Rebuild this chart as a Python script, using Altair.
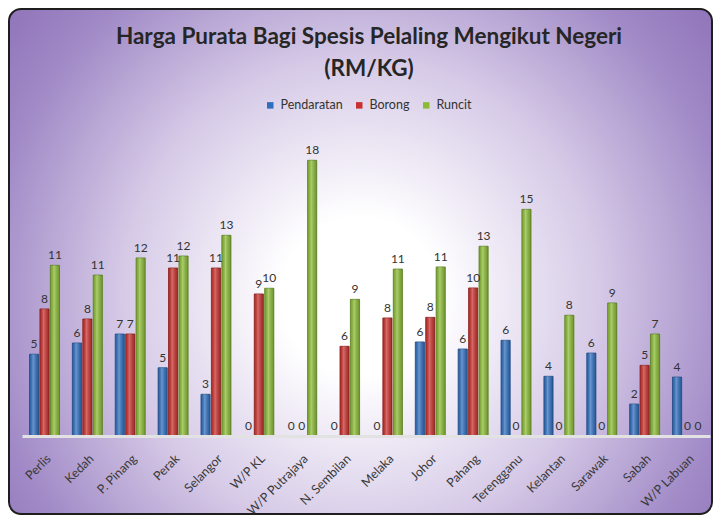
import altair as alt
import pandas as pd

negeri = ["Perlis", "Kedah", "P. Pinang", "Perak", "Selangor", "W/P KL", "W/P Putrajaya",
          "N. Sembilan", "Melaka", "Johor", "Pahang", "Terengganu", "Kelantan", "Sarawak",
          "Sabah", "W/P Labuan"]
siri = ["Pendaratan", "Borong", "Runcit"]
pendaratan = [5.45, 6.2, 6.8, 4.55, 2.78, 0, 0, 0, 0, 6.27, 5.8, 6.38, 3.98, 5.53, 2.13, 3.93]
borong = [8.47, 7.8, 6.8, 11.2, 11.2, 9.47, 0, 5.98, 7.87, 7.91, 9.87, 0, 0, 0, 4.71, 0]
runcit = [11.38, 10.73, 11.87, 12.0, 13.38, 9.85, 18.38, 9.11, 11.13, 11.27, 12.65, 15.11, 8.05, 8.87, 6.8, 0]
tajuk = ["Harga Purata Bagi Spesis Pelaling Mengikut Negeri", "(RM/KG)"]

warna = ["#2F6EBD", "#C8312D", "#8BBB35"]
garis = ["#1F4E8C", "#8E1F1C", "#5E8424"]

rows = []
for i, n in enumerate(negeri):
    for s, vals in zip(siri, [pendaratan, borong, runcit]):
        rows.append({"Negeri": n, "Siri": s, "Harga": vals[i]})
df = pd.DataFrame(rows)

W, H = 688, 300
FONT = "Lato"

bg = alt.Chart(pd.DataFrame({"a": [0]})).mark_rect(
    cornerRadius=12,
    stroke="#1E1E1E",
    strokeWidth=2,
    color={
        "gradient": "radial",
        "x1": 0.5, "y1": 0.55, "r1": 0,
        "x2": 0.5, "y2": 0.55, "r2": 0.75,
        "stops": [
            {"offset": 0, "color": "#FFFFFF"},
            {"offset": 0.15, "color": "#FFFFFF"},
            {"offset": 0.45, "color": "#D6CAE7"},
            {"offset": 0.72, "color": "#A089C6"},
            {"offset": 1, "color": "#8061AE"},
        ],
    },
).encode(
    x=alt.value(-13), x2=alt.value(W + 2), y=alt.value(-127), y2=alt.value(H + 78)
)

title_layers = []
for txt, yy in zip(tajuk, [-99, -67]):
    title_layers.append(
        alt.Chart(pd.DataFrame({"t": [txt]})).mark_text(
            font=FONT, fontSize=22.5, fontWeight="bold", color="#262626",
            baseline="middle", align="center",
        ).encode(text="t:N", x=alt.value(W / 2 + 3), y=alt.value(yy))
    )

x_enc = alt.X(
    "Negeri:N", sort=negeri,
    scale=alt.Scale(paddingInner=0.3, paddingOuter=0.175),
    axis=alt.Axis(
        title=None, labelAngle=-45, labelFontSize=12.5, labelColor="#3A3A3A",
        labelFont=FONT, domainColor="#E2E2E2", domainWidth=3, ticks=False,
        labelPadding=16, grid=False, zindex=1,
    ),
)
xo_enc = alt.XOffset("Siri:N", sort=siri, scale=alt.Scale(paddingInner=0.12))
y_enc = alt.Y("Harga:Q", scale=alt.Scale(domain=[0, 20]), axis=None)

base = alt.Chart(df)

bars = base.mark_bar(strokeWidth=0.8).encode(
    x=x_enc, xOffset=xo_enc, y=y_enc,
    color=alt.Color(
        "Siri:N", sort=siri, scale=alt.Scale(domain=siri, range=warna),
        legend=alt.Legend(
            title=None, orient="none", legendX=242, legendY=-37, direction="horizontal",
            symbolType="square", symbolSize=42, symbolStrokeWidth=0,
            labelFont=FONT, labelFontSize=12.5, labelColor="#333333", columnPadding=10,
            symbolOffset=0, labelOffset=4,
        ),
    ),
    stroke=alt.Stroke("Siri:N", sort=siri, scale=alt.Scale(domain=siri, range=garis), legend=None),
    strokeOpacity=alt.condition(alt.datum.Harga > 0, alt.value(1), alt.value(0)),
)

shine = base.mark_bar(
    color={
        "gradient": "linear", "x1": 0, "y1": 0, "x2": 1, "y2": 0,
        "stops": [
            {"offset": 0, "color": "rgba(0,0,0,0.10)"},
            {"offset": 0.4, "color": "rgba(255,255,255,0.28)"},
            {"offset": 1, "color": "rgba(0,0,0,0.18)"},
        ],
    }
).encode(x=x_enc, xOffset=xo_enc, y=y_enc)

labels = base.mark_text(
    baseline="bottom", dy=-3, fontSize=12, font=FONT, color="#333333"
).encode(
    x=x_enc, xOffset=xo_enc, y=y_enc,
    text=alt.Text("Harga:Q", format=".0f"),
)

chart = alt.layer(bg, *title_layers, bars, shine, labels).properties(
    width=W, height=H, padding=0,
).configure_view(stroke=None).configure(background="white")

chart.save("out.html", embed_options={"renderer": "svg", "actions": False})
